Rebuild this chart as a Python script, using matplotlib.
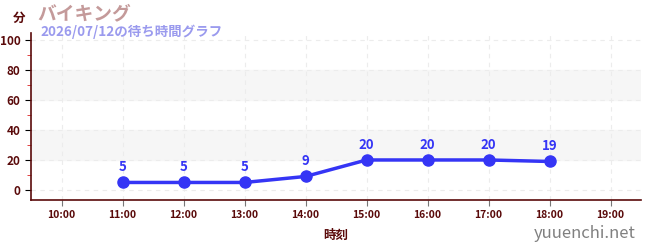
import matplotlib
matplotlib.use("Agg")
import matplotlib.pyplot as plt
from matplotlib.ticker import MultipleLocator

plt.rcParams['font.family'] = ['Noto Sans CJK JP', 'DejaVu Sans']

hours = [11, 12, 13, 14, 15, 16, 17, 18]
waits = [5, 5, 5, 9, 20, 20, 20, 19]
tick_hours = list(range(10, 20))
tick_labels = [f"{h}:00" for h in tick_hours]

title = "バイキング"
subtitle = "2026/07/12の待ち時間グラフ"

dark = "#5a0a0a"
blue = "#3535f5"

fig = plt.figure(figsize=(6.5, 2.5), dpi=100)
ax = fig.add_axes([31 / 650, 50 / 250, 610 / 650, 167 / 250])

ax.set_xlim(9.5, 19.5)
ax.set_ylim(-6.7, 104.7)

# shaded bands
for lo, hi in [(20, 40), (60, 80)]:
    ax.axhspan(lo, hi, color="#f6f6f6", zorder=0)

ax.set_yticks([0, 20, 40, 60, 80, 100])
ax.yaxis.set_minor_locator(MultipleLocator(10))
ax.set_xticks(tick_hours)
ax.set_xticklabels(tick_labels)
ax.grid(True, which="major", color="#ececec", linestyle=(0, (4, 4)), linewidth=0.8)
ax.set_axisbelow(True)

for s in ["top", "right"]:
    ax.spines[s].set_visible(False)
for s in ["left", "bottom"]:
    ax.spines[s].set_color(dark)
    ax.spines[s].set_linewidth(1.2)

ax.tick_params(axis="y", which="major", colors="black", labelcolor=dark, length=4, labelsize=8.5)
ax.tick_params(axis="y", which="minor", colors="#dd2222", length=3)
ax.tick_params(axis="x", colors="#777777", labelcolor=dark, length=4, labelsize=7.5)
for lbl in ax.get_xticklabels() + ax.get_yticklabels():
    lbl.set_fontweight("bold")

ax.plot(hours, waits, color=blue, linewidth=2.5, marker="o", markersize=8, zorder=3)
for h, w in zip(hours, waits):
    ax.annotate(str(w), (h, w), textcoords="offset points", xytext=(0, 6),
                ha="center", va="bottom", color=blue, fontsize=9.5, fontweight="bold")

ax.set_xlabel("時刻", color=dark, fontsize=9, fontweight="bold", labelpad=6)

fig.text(13 / 650, 1 - 18 / 250, "分", color=dark, fontsize=9, fontweight="bold", va="center", ha="left")
fig.text(37 / 650, 1 - 14 / 250, title, color="#c49a9a", fontsize=13.5, fontweight="bold", va="center", ha="left")
fig.text(40 / 650, 1 - 32 / 250, subtitle, color="#9a9aee", fontsize=9.7, fontweight="bold", va="center", ha="left")
fig.text(636 / 650, 1 - 234 / 250, "yuuenchi.net", color="#808080", fontsize=12, va="center", ha="right")

fig.savefig("out.png", dpi=100)
